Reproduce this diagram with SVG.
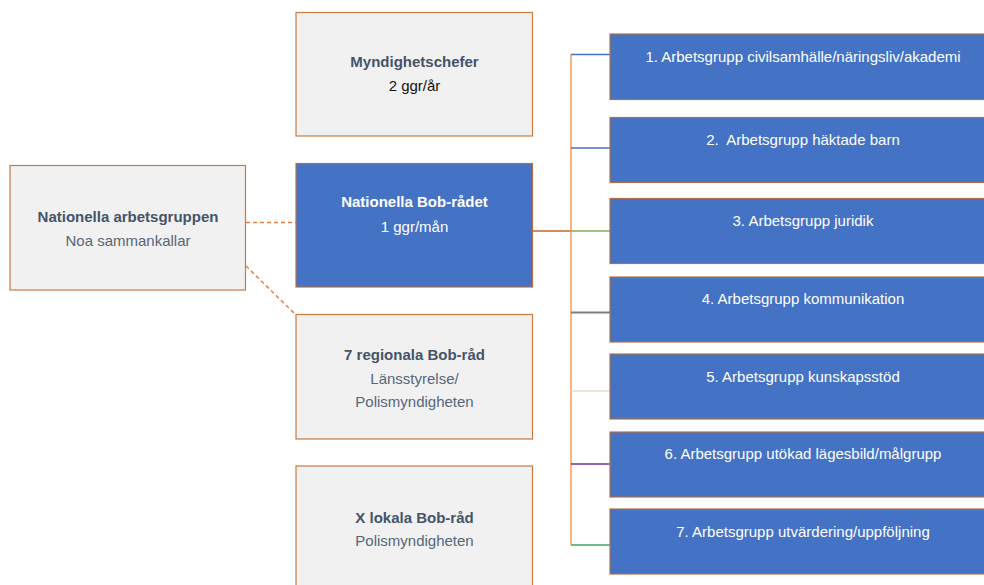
<svg xmlns="http://www.w3.org/2000/svg" width="984" height="585" viewBox="0 0 984 585">
<style>
text{font-family:"Liberation Sans",Arial,sans-serif;font-size:15px;text-anchor:middle}
.gray{fill:#F1F1F1;stroke:#C87A45;stroke-width:1.2}
.blue{fill:#4472C4;stroke:#B0714A;stroke-width:1.2}
.t{fill:#44546A;font-weight:bold}
.s{fill:#56667B}
.w{fill:#FFFFFF}
.wb{fill:#FFFFFF;font-weight:bold}
.k{fill:#111111}
.dash{stroke:#E2803F;stroke-width:1.5;stroke-dasharray:4 3;fill:none}
</style>
<g id="connectors" fill="none">
<line class="dash" x1="246" y1="222.5" x2="296" y2="222.5"/>
<line class="dash" x1="246" y1="266" x2="296" y2="315"/>
<line x1="533" y1="231" x2="571" y2="231" stroke="#C9652A" stroke-width="1.5"/>
<line x1="571" y1="54.5" x2="571" y2="545" stroke="#F29B5E" stroke-width="1.5"/>
<line x1="571" y1="54.5" x2="610" y2="54.5" stroke="#4472C4" stroke-width="1.5"/>
<line x1="571" y1="148" x2="610" y2="148" stroke="#4472C4" stroke-width="1.5"/>
<line x1="571" y1="231" x2="610" y2="231" stroke="#7DAF5C" stroke-width="1.5"/>
<line x1="571" y1="312.5" x2="610" y2="312.5" stroke="#7F7F7F" stroke-width="2"/>
<line x1="571" y1="391" x2="610" y2="391" stroke="#E8DFB8" stroke-width="1.5"/>
<line x1="571" y1="464" x2="610" y2="464" stroke="#7030A0" stroke-width="1.5"/>
<line x1="571" y1="545" x2="610" y2="545" stroke="#3DAA62" stroke-width="1.5"/>
</g>
<g id="nationella-arbetsgruppen">
<rect class="gray" x="10" y="165.5" width="235.5" height="124.5"/>
<text class="t" x="128" y="222">Nationella arbetsgruppen</text>
<text class="s" x="128" y="245.5">Noa sammankallar</text>
</g>
<g id="myndighetschefer">
<rect class="gray" x="296" y="12.5" width="236.5" height="123.5"/>
<text class="t" x="414.5" y="67">Myndighetschefer</text>
<text class="k" x="414.5" y="91">2 ggr/år</text>
</g>
<g id="nationella-bob-radet">
<rect class="blue" x="296" y="163.5" width="236.5" height="123.5"/>
<text class="wb" x="414.5" y="207">Nationella Bob-rådet</text>
<text class="w" x="414.5" y="231.5">1 ggr/mån</text>
</g>
<g id="regionala-bob-rad">
<rect class="gray" x="296" y="314.5" width="236.5" height="124.5"/>
<text class="t" x="414.5" y="360">7 regionala Bob-råd</text>
<text class="s" x="414.5" y="383.5">Länsstyrelse/</text>
<text class="s" x="414.5" y="406.5">Polismyndigheten</text>
</g>
<g id="lokala-bob-rad">
<rect class="gray" x="296" y="466" width="236.5" height="130"/>
<text class="t" x="414.5" y="523">X lokala Bob-råd</text>
<text class="s" x="414.5" y="546">Polismyndigheten</text>
</g>
<g id="ag1"><rect class="blue" x="610" y="34" width="390" height="65.5"/><text class="w" x="803" y="62">1. Arbetsgrupp civilsamhälle/näringsliv/akademi</text></g>
<g id="ag2"><rect class="blue" x="610" y="117.5" width="390" height="65"/><text class="w" x="803" y="145">2.&#160; Arbetsgrupp häktade barn</text></g>
<g id="ag3"><rect class="blue" x="610" y="198.5" width="390" height="65"/><text class="w" x="803" y="226">3. Arbetsgrupp juridik</text></g>
<g id="ag4"><rect class="blue" x="610" y="277" width="390" height="65"/><text class="w" x="803" y="304">4. Arbetsgrupp kommunikation</text></g>
<g id="ag5"><rect class="blue" x="610" y="354" width="390" height="65"/><text class="w" x="803" y="382">5. Arbetsgrupp kunskapsstöd</text></g>
<g id="ag6"><rect class="blue" x="610" y="432" width="390" height="65"/><text class="w" x="803" y="459">6. Arbetsgrupp utökad lägesbild/målgrupp</text></g>
<g id="ag7"><rect class="blue" x="610" y="509" width="390" height="65"/><text class="w" x="803" y="537">7. Arbetsgrupp utvärdering/uppföljning</text></g>
</svg>
